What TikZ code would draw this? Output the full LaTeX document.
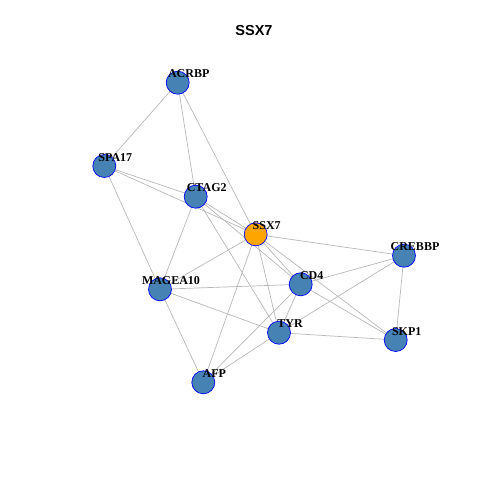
\documentclass[tikz,border=0pt]{standalone}
\usepackage{fontspec}
\usetikzlibrary{calc}
\setmainfont{Liberation Serif}
\newfontfamily\titlefont{Liberation Sans}
\definecolor{nodeblue}{HTML}{4682B4}
\definecolor{nodeorange}{HTML}{FFA500}
\definecolor{edgegray}{HTML}{B8B8B8}
\begin{document}
\begin{tikzpicture}[x=1pt,y=-1pt,
  vert/.style={circle,draw=blue,line width=0.7pt,fill=nodeblue,minimum size=23pt,inner sep=0pt},
  seed/.style={vert,fill=nodeorange},
  lab/.style={anchor=base,font=\bfseries\fontsize{12}{13}\selectfont,inner sep=0pt},
  edge/.style={draw=edgegray,line width=0.7pt}]
\useasboundingbox (0,0) rectangle (480,480);
\node[font=\titlefont\bfseries\fontsize{14.5}{16}\selectfont,anchor=base] (title) at (254,35) {SSX7};
% vertex positions
\coordinate (pACRBP) at (177.7,82.7);
\coordinate (pSPA17) at (104.3,166);
\coordinate (pCTAG2) at (195.7,196.7);
\coordinate (pSSX7) at (255.7,234.3);
\coordinate (pCREBBP) at (404,255.7);
\coordinate (pCD4) at (300.7,284.3);
\coordinate (pTYR) at (279,332.7);
\coordinate (pSKP1) at (395.7,340);
\coordinate (pMAGEA10) at (160,289.3);
\coordinate (pAFP) at (203.3,382.3);
% edges (drawn first, beneath vertices)
\foreach \a/\b in {ACRBP/SPA17,ACRBP/CTAG2,ACRBP/SSX7,
  SPA17/CTAG2,SPA17/SSX7,SPA17/MAGEA10,
  CTAG2/SSX7,CTAG2/CD4,CTAG2/TYR,CTAG2/MAGEA10,
  SSX7/CREBBP,SSX7/CD4,SSX7/SKP1,SSX7/TYR,SSX7/AFP,SSX7/MAGEA10,
  CD4/MAGEA10,CD4/CREBBP,CD4/SKP1,CD4/TYR,CD4/AFP,
  CREBBP/TYR,CREBBP/SKP1,
  TYR/SKP1,TYR/AFP,TYR/MAGEA10,MAGEA10/AFP}
  \draw[edge] (p\a) -- (p\b);
% vertices
\foreach \n in {ACRBP,SPA17,CTAG2,CREBBP,CD4,TYR,SKP1,MAGEA10,AFP}
  \node[vert] (\n) at (p\n) {};
\node[seed] (SSX7) at (pSSX7) {};
% labels
\foreach \n in {ACRBP,SPA17,CTAG2,SSX7,CREBBP,CD4,TYR,SKP1,MAGEA10,AFP}
  \node[lab] (l\n) at ($(p\n)+(11,-5)$) {\n};
\end{tikzpicture}
\end{document}
